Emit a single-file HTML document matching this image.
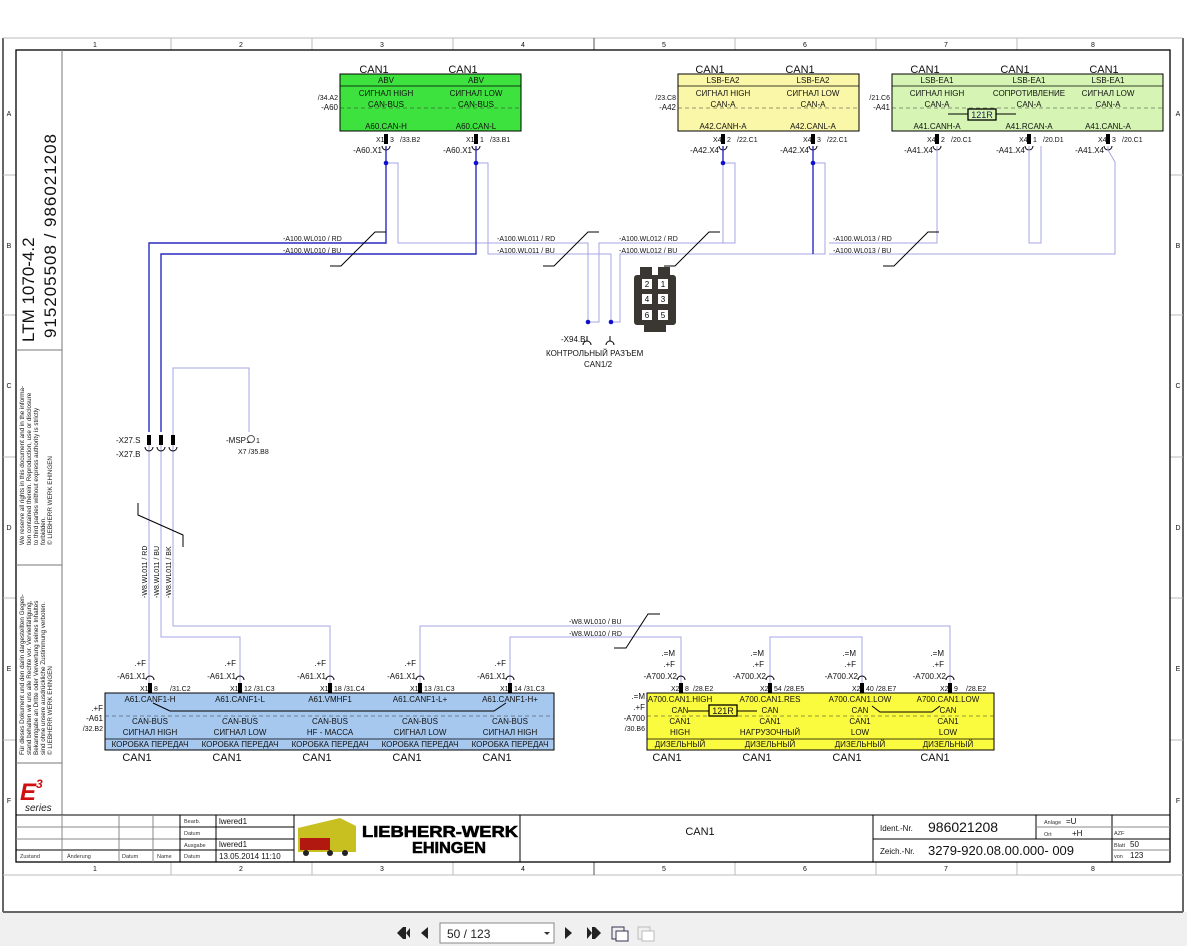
<!DOCTYPE html>
<html><head><meta charset="utf-8"><style>
html,body{margin:0;padding:0;background:#fff;}
svg{display:block;font-family:"Liberation Sans",sans-serif;}
.s{font-size:8px;fill:#111}
.t{font-size:7px;fill:#111}
.c{font-size:11px;fill:#111}
.lw{stroke:#a4a4e4;stroke-width:1;fill:none}
.dw{stroke:#2a2ac0;stroke-width:1.4;fill:none}
.k{stroke:#000;fill:none;stroke-width:1}
.g{stroke:#bbb;fill:none;stroke-width:1}
</style></head><body>
<svg width="1187" height="946" viewBox="0 0 1187 946" xmlns="http://www.w3.org/2000/svg">
<defs>
<g id="pu"><rect x="-2" y="-5" width="4" height="10" fill="#000"/><path d="M-4,7 A4,4 0 0 0 4,7" class="k"/></g>
<g id="pd"><rect x="-2" y="-5" width="4" height="10" fill="#000"/><path d="M-4,-8 A4,4 0 0 1 4,-8" class="k"/></g>
</defs>
<rect x="0" y="0" width="1187" height="946" fill="#fff"/>
<rect x="0" y="912" width="1187" height="34" fill="#f0f0f0"/>
<line x1="3" y1="38" x2="3" y2="912" stroke="#666" stroke-width="2"/>
<line x1="1183" y1="38" x2="1183" y2="912" stroke="#666" stroke-width="2"/>
<line x1="3" y1="912" x2="1183" y2="912" stroke="#666" stroke-width="2"/>
<line x1="3" y1="38" x2="1183" y2="38" class="g"/>
<line x1="3" y1="875" x2="1183" y2="875" class="g"/>
<g class="g">
<line x1="171" y1="38" x2="171" y2="50"/><line x1="312" y1="38" x2="312" y2="50"/><line x1="453" y1="38" x2="453" y2="50"/><line x1="594" y1="38" x2="594" y2="50" stroke="#555"/><line x1="735" y1="38" x2="735" y2="50"/><line x1="876" y1="38" x2="876" y2="50"/><line x1="1017" y1="38" x2="1017" y2="50"/>
<line x1="171" y1="862" x2="171" y2="875"/><line x1="312" y1="862" x2="312" y2="875"/><line x1="453" y1="862" x2="453" y2="875"/><line x1="594" y1="862" x2="594" y2="875" stroke="#555"/><line x1="735" y1="862" x2="735" y2="875"/><line x1="876" y1="862" x2="876" y2="875"/><line x1="1017" y1="862" x2="1017" y2="875"/>
<line x1="3" y1="175" x2="16" y2="175"/><line x1="3" y1="315" x2="16" y2="315"/><line x1="3" y1="457" x2="16" y2="457"/><line x1="3" y1="598" x2="16" y2="598"/><line x1="3" y1="740" x2="16" y2="740"/>
<line x1="1170" y1="175" x2="1183" y2="175"/><line x1="1170" y1="315" x2="1183" y2="315"/><line x1="1170" y1="457" x2="1183" y2="457"/><line x1="1170" y1="598" x2="1183" y2="598"/><line x1="1170" y1="740" x2="1183" y2="740"/>
</g>
<g class="t" text-anchor="middle">
<text x="95" y="47">1</text><text x="241" y="47">2</text><text x="382" y="47">3</text><text x="523" y="47">4</text><text x="664" y="47">5</text><text x="805" y="47">6</text><text x="946" y="47">7</text><text x="1093" y="47">8</text>
<text x="95" y="871">1</text><text x="241" y="871">2</text><text x="382" y="871">3</text><text x="523" y="871">4</text><text x="664" y="871">5</text><text x="805" y="871">6</text><text x="946" y="871">7</text><text x="1093" y="871">8</text>
<text x="9" y="116">A</text><text x="9" y="248">B</text><text x="9" y="388">C</text><text x="9" y="530">D</text><text x="9" y="671">E</text><text x="9" y="803">F</text>
<text x="1178" y="116">A</text><text x="1178" y="248">B</text><text x="1178" y="388">C</text><text x="1178" y="530">D</text><text x="1178" y="671">E</text><text x="1178" y="803">F</text>
</g>
<rect x="16" y="50" width="1154" height="812" fill="none" stroke="#000" stroke-width="1.3"/>
<line x1="62" y1="50" x2="62" y2="815" stroke="#777"/>
<line x1="16" y1="350" x2="62" y2="350" stroke="#777"/><line x1="16" y1="565" x2="62" y2="565" stroke="#777"/><line x1="16" y1="763" x2="62" y2="763" stroke="#777"/>
<text transform="translate(34,342) rotate(-90)" font-size="17" fill="#111">LTM 1070-4.2</text>
<text transform="translate(56,338) rotate(-90)" font-size="17" fill="#111" textLength="204">915205508  /  986021208</text>
<g font-size="6.3" fill="#222">
<text transform="translate(24,545) rotate(-90)">We reserve all rights in this document and in the informa-</text>
<text transform="translate(31,545) rotate(-90)">tion contained therein. Reproduction, use or disclosure</text>
<text transform="translate(38,545) rotate(-90)">to third parties without express authority is strictly</text>
<text transform="translate(45,545) rotate(-90)">forbidden.</text>
<text transform="translate(52,545) rotate(-90)">© LIEBHERR WERK EHINGEN</text>
<text transform="translate(24,755) rotate(-90)">Für dieses Dokument und den darin dargestellten Gegen-</text>
<text transform="translate(31,755) rotate(-90)">stand behalten wir uns alle Rechte vor. Vervielfältigung,</text>
<text transform="translate(38,755) rotate(-90)">Bekanntgabe an Dritte oder Verwertung seines Inhaltes</text>
<text transform="translate(45,755) rotate(-90)">sind ohne unsere ausdrückliche Zustimmung verboten.</text>
<text transform="translate(52,755) rotate(-90)">© LIEBHERR WERK EHINGEN</text>
</g>
<text x="20" y="800" font-size="24" font-weight="bold" font-style="italic" fill="#d01010">E</text>
<text x="36" y="788" font-size="12" font-weight="bold" font-style="italic" fill="#d01010">3</text>
<text x="25" y="811" font-size="10" font-style="italic" fill="#222">series</text>
<g stroke="#000" fill="none">
<line x1="16" y1="815" x2="1170" y2="815"/>
<line x1="16" y1="827" x2="180" y2="827" stroke="#888"/><line x1="16" y1="839" x2="180" y2="839" stroke="#888"/><line x1="16" y1="850" x2="294" y2="850"/>
<line x1="180" y1="827" x2="294" y2="827"/><line x1="180" y1="839" x2="294" y2="839"/>
<line x1="62" y1="815" x2="62" y2="862" stroke="#888"/><line x1="119" y1="815" x2="119" y2="862" stroke="#888"/><line x1="153" y1="815" x2="153" y2="862" stroke="#888"/><line x1="180" y1="815" x2="180" y2="862"/><line x1="216" y1="815" x2="216" y2="862"/>
<line x1="294" y1="815" x2="294" y2="862"/><line x1="520" y1="815" x2="520" y2="862"/><line x1="873" y1="815" x2="873" y2="862"/>
<line x1="873" y1="839" x2="1170" y2="839"/><line x1="1036" y1="815" x2="1036" y2="839"/><line x1="1112" y1="815" x2="1112" y2="862"/>
<line x1="1036" y1="827" x2="1112" y2="827" stroke="#888"/><line x1="1112" y1="827" x2="1170" y2="827" stroke="#888"/><line x1="1112" y1="850" x2="1170" y2="850" stroke="#888"/>
</g>
<g font-size="5.5" fill="#333">
<text x="20" y="858">Zustand</text><text x="67" y="858">Änderung</text><text x="122" y="858">Datum</text><text x="157" y="858">Name</text>
<text x="184" y="823">Bearb.</text><text x="184" y="835">Datum</text><text x="184" y="847">Ausgabe</text><text x="184" y="858">Datum</text>
<text x="1044" y="824">Anlage</text><text x="1044" y="836">Ort</text><text x="1114" y="835">AZF</text><text x="1114" y="847">Blatt</text><text x="1114" y="858">von</text>
</g>
<g font-size="8" fill="#111">
<text x="219" y="824">lwered1</text><text x="219" y="847">lwered1</text><text x="219" y="859">13.05.2014  11:10</text>
<text x="1066" y="824">=U</text><text x="1072" y="836">+H</text><text x="1130" y="847">50</text><text x="1130" y="858">123</text>
<text x="880" y="831">Ident.-Nr.</text><text x="880" y="854">Zeich.-Nr.</text>
</g>
<text x="928" y="832" font-size="14" fill="#111">986021208</text>
<text x="928" y="855" font-size="13" fill="#111">3279-920.08.00.000- 009</text>
<text x="700" y="835" font-size="11" fill="#111" text-anchor="middle">CAN1</text>
<polygon points="298,828 340,818 356,826 356,852 298,852" fill="#c8c020"/>
<rect x="300" y="838" width="30" height="12" fill="#b01810"/>
<circle cx="306" cy="853" r="3" fill="#222"/><circle cx="330" cy="853" r="3" fill="#222"/><circle cx="345" cy="853" r="3" fill="#222"/>
<text x="362" y="837" font-size="16" font-weight="bold" fill="#000" textLength="156" lengthAdjust="spacingAndGlyphs" stroke="#000" stroke-width="0.6">LIEBHERR-WERK</text>
<text x="412" y="853" font-size="16" font-weight="bold" fill="#000" textLength="74" lengthAdjust="spacingAndGlyphs" stroke="#000" stroke-width="0.6">EHINGEN</text>
<g fill="#222">
<polygon points="397,933 403,927 403,939"/><rect x="403" y="927" width="3" height="12"/><polygon points="406,933 410,928 410,938"/>
<polygon points="421,933 428,927 428,939"/>
<polygon points="565,927 572,933 565,939"/>
<polygon points="587,927 592,933 587,939"/><rect x="592" y="927" width="3" height="12"/><polygon points="595,927 601,933 595,939"/>
</g>
<rect x="440" y="923" width="114" height="20" fill="#fff" stroke="#888"/>
<text x="447" y="938" font-size="12" fill="#222">50 / 123</text>
<polygon points="544,932 550,932 547,935" fill="#333"/>
<rect x="612" y="927" width="12" height="12" fill="none" stroke="#335"/><rect x="616" y="931" width="12" height="10" fill="#fff" stroke="#335"/>
<rect x="638" y="927" width="12" height="12" fill="none" stroke="#bbb"/><rect x="642" y="931" width="12" height="10" fill="#fff" stroke="#bbb"/>

<rect x="340" y="74" width="181" height="57" fill="#3ee23e" stroke="#000"/>
<line x1="340" y1="86" x2="521" y2="86" stroke="#000" stroke-width="0.7"/>
<line x1="340" y1="108" x2="521" y2="108" stroke="#333" stroke-dasharray="4,3" stroke-width="0.5"/>
<rect x="678" y="74" width="181" height="57" fill="#fbf7a8" stroke="#000"/>
<line x1="678" y1="86" x2="859" y2="86" stroke="#000" stroke-width="0.7"/>
<line x1="678" y1="108" x2="859" y2="108" stroke="#333" stroke-dasharray="4,3" stroke-width="0.5"/>
<rect x="892" y="74" width="271" height="57" fill="#d6f5b4" stroke="#000"/>
<line x1="892" y1="86" x2="1163" y2="86" stroke="#000" stroke-width="0.7"/>
<line x1="892" y1="108" x2="1163" y2="108" stroke="#333" stroke-dasharray="4,3" stroke-width="0.5"/>
<g class="c" text-anchor="middle">
<text x="374" y="73">CAN1</text><text x="463" y="73">CAN1</text>
<text x="710" y="73">CAN1</text><text x="800" y="73">CAN1</text>
<text x="925" y="73">CAN1</text><text x="1015" y="73">CAN1</text><text x="1104" y="73">CAN1</text>
</g>
<g class="s" text-anchor="middle">
<text x="386" y="83">ABV</text><text x="476" y="83">ABV</text>
<text x="386" y="96">СИГНАЛ HIGH</text><text x="476" y="96">СИГНАЛ LOW</text>
<text x="386" y="107">CAN-BUS</text><text x="476" y="107">CAN-BUS</text>
<text x="386" y="129">A60.CAN-H</text><text x="476" y="129">A60.CAN-L</text>
<text x="723" y="83">LSB-EA2</text><text x="813" y="83">LSB-EA2</text>
<text x="723" y="96">СИГНАЛ HIGH</text><text x="813" y="96">СИГНАЛ LOW</text>
<text x="723" y="107">CAN-A</text><text x="813" y="107">CAN-A</text>
<text x="723" y="129">A42.CANH-A</text><text x="813" y="129">A42.CANL-A</text>
<text x="937" y="83">LSB-EA1</text><text x="1029" y="83">LSB-EA1</text><text x="1108" y="83">LSB-EA1</text>
<text x="937" y="96">СИГНАЛ HIGH</text><text x="1029" y="96">СОПРОТИВЛЕНИЕ</text><text x="1108" y="96">СИГНАЛ LOW</text>
<text x="937" y="107">CAN-A</text><text x="1029" y="107">CAN-A</text><text x="1108" y="107">CAN-A</text>
<text x="937" y="129">A41.CANH-A</text><text x="1029" y="129">A41.RCAN-A</text><text x="1108" y="129">A41.CANL-A</text>
</g>
<line x1="948" y1="114" x2="968" y2="114" class="k" stroke-width="1.3"/><line x1="996" y1="114" x2="1016" y2="114" class="k" stroke-width="1.3"/>
<rect x="968" y="109" width="28" height="11" fill="#d6f5b4" stroke="#000" stroke-width="1.3"/>
<text x="982" y="118" font-size="9" text-anchor="middle" fill="#124">121R</text>
<g class="t" text-anchor="end">
<text x="338" y="100">/34.A2</text><text x="338" y="110" font-size="8">-A60</text>
<text x="676" y="100">/23.C8</text><text x="676" y="110" font-size="8">-A42</text>
<text x="890" y="100">/21.C6</text><text x="890" y="110" font-size="8">-A41</text>
</g>
<g>
<use href="#pu" x="386" y="139"/><use href="#pu" x="476" y="139"/><use href="#pu" x="723" y="139"/><use href="#pu" x="813" y="139"/><use href="#pu" x="937" y="139"/><use href="#pu" x="1029" y="139"/><use href="#pu" x="1108" y="139"/>
</g>
<g class="t">
<text x="376" y="142">X1</text><text x="390" y="142">3</text><text x="400" y="142">/33.B2</text>
<text x="466" y="142">X1</text><text x="480" y="142">1</text><text x="490" y="142">/33.B1</text>
<text x="713" y="142">X4</text><text x="727" y="142">2</text><text x="737" y="142">/22.C1</text>
<text x="803" y="142">X4</text><text x="817" y="142">3</text><text x="827" y="142">/22.C1</text>
<text x="927" y="142">X4</text><text x="941" y="142">2</text><text x="951" y="142">/20.C1</text>
<text x="1019" y="142">X4</text><text x="1033" y="142">1</text><text x="1043" y="142">/20.D1</text>
<text x="1098" y="142">X4</text><text x="1112" y="142">3</text><text x="1122" y="142">/20.C1</text>
</g>
<g class="s" text-anchor="end">
<text x="382" y="153">-A60.X1</text><text x="472" y="153">-A60.X1</text><text x="719" y="153">-A42.X4</text><text x="809" y="153">-A42.X4</text><text x="933" y="153">-A41.X4</text><text x="1025" y="153">-A41.X4</text><text x="1104" y="153">-A41.X4</text>
</g>
<g class="lw">
<path d="M386,146V163H398V243H588V322"/>
<path d="M476,146V163H488V254H611V322"/>
<path d="M723,146V163H735V243H599V322H588"/>
<path d="M813,146V163H825V254H620V322H611"/>
<path d="M937,146V243H829"/>
<path d="M1029,146V243H1041V146"/>
<path d="M1108,146L1108,150L1115,162V254H829"/>
<path d="M723,146V243"/>
<path d="M173,440V368H249V432"/>
<path d="M149,440V690"/>
<path d="M161,440V637H240V684"/>
<path d="M173,440V626H330V684"/>
<path d="M420,684V626H950V684"/>
<path d="M510,684V637H681V684"/>
<path d="M770,684V637H862V684"/>
</g>
<g class="dw">
<path d="M386,146V243H149V432"/>
<path d="M476,146V254H161V432"/>
<path d="M723,146V163"/><path d="M813,146V254"/>
</g>
<g fill="#1010d0">
<circle cx="386" cy="163" r="2.3"/><circle cx="476" cy="163" r="2.3"/><circle cx="723" cy="163" r="2.3"/><circle cx="813" cy="163" r="2.3"/>
<circle cx="588" cy="322" r="2.3"/><circle cx="611" cy="322" r="2.3"/>
</g>
<g class="k" stroke="#444" stroke-width="0.8">
<path d="M330,266H341L375,232H386"/>
<path d="M543,266H554L588,232H599"/>
<path d="M664,266H675L709,232H720"/>
<path d="M883,266H894L928,232H939"/>
<path d="M138,503V515L183,535V547"/>
<path d="M614,648H626L648,614H660"/>
</g>
<g class="t">
<text x="283" y="241">-A100.WL010 / RD</text><text x="283" y="253">-A100.WL010 / BU</text>
<text x="497" y="241">-A100.WL011 / RD</text><text x="497" y="253">-A100.WL011 / BU</text>
<text x="619" y="241">-A100.WL012 / RD</text><text x="619" y="253">-A100.WL012 / BU</text>
<text x="833" y="241">-A100.WL013 / RD</text><text x="833" y="253">-A100.WL013 / BU</text>
<text x="569" y="624">-W8.WL010 / BU</text><text x="569" y="636">-W8.WL010 / RD</text>
<text transform="translate(147,598) rotate(-90)">-W8.WL011 / RD</text>
<text transform="translate(159,598) rotate(-90)">-W8.WL011 / BU</text>
<text transform="translate(171,598) rotate(-90)">-W8.WL011 / BK</text>
</g>
<path d="M583,345 A4,4 0 0 1 591,345 M587,341V336 M606,345 A4,4 0 0 1 614,345 M610,341V336" class="k"/>
<g class="s">
<text x="561" y="342">-X94.B</text>
<text x="546" y="356">КОНТРОЛЬНЫЙ РАЗЪЕМ</text>
<text x="584" y="367">CAN1/2</text>
</g>
<rect x="634" y="275" width="42" height="50" rx="3" fill="#3a3632"/>
<rect x="640" y="267" width="12" height="10" fill="#3a3632"/><rect x="658" y="267" width="12" height="10" fill="#3a3632"/>
<rect x="644" y="322" width="22" height="10" fill="#3a3632"/>
<g fill="#fff"><rect x="642" y="279" width="10" height="10"/><rect x="658" y="279" width="10" height="10"/><rect x="642" y="294" width="10" height="10"/><rect x="658" y="294" width="10" height="10"/><rect x="642" y="310" width="10" height="10"/><rect x="658" y="310" width="10" height="10"/></g>
<g font-size="8" text-anchor="middle" fill="#000"><text x="647" y="287">2</text><text x="663" y="287">1</text><text x="647" y="302">4</text><text x="663" y="302">3</text><text x="647" y="318">6</text><text x="663" y="318">5</text></g>
<use href="#pu" x="149" y="440"/><use href="#pu" x="161" y="440"/><use href="#pu" x="173" y="440"/>
<g class="s"><text x="116" y="443">-X27.S</text><text x="116" y="457">-X27.B</text><text x="226" y="443">-MSP1</text></g>
<circle cx="251" cy="439" r="3.5" fill="#fff" stroke="#555"/>
<g class="t"><text x="256" y="443">1</text><text x="238" y="454">X7 /35.B8</text></g>
<rect x="105" y="693" width="449" height="57" fill="#a6c8ee" stroke="#000"/>
<line x1="105" y1="716" x2="554" y2="716" stroke="#333" stroke-dasharray="4,3" stroke-width="0.5"/>
<line x1="105" y1="739" x2="554" y2="739" stroke="#000" stroke-width="0.7"/>
<path d="M153,703L170,711H494L506,703" class="k" stroke-width="1.2"/>
<rect x="647" y="693" width="347" height="57" fill="#fafa3e" stroke="#000"/>
<line x1="647" y1="716" x2="994" y2="716" stroke="#333" stroke-dasharray="4,3" stroke-width="0.5"/>
<line x1="647" y1="739" x2="994" y2="739" stroke="#000" stroke-width="0.7"/>
<path d="M688,711H709M737,711H757" class="k" stroke-width="1.3"/>
<rect x="709" y="705" width="28" height="11" fill="#fafa3e" stroke="#000" stroke-width="1.3"/>
<text x="723" y="714" font-size="9" text-anchor="middle" fill="#111">121R</text>
<path d="M872,706L880,712H932L940,706" class="k" stroke-width="1.2"/>
<g class="s" text-anchor="middle">
<text x="150" y="702">A61.CANF1-H</text><text x="240" y="702">A61.CANF1-L</text><text x="330" y="702">A61.VMHF1</text><text x="420" y="702">A61.CANF1-L+</text><text x="510" y="702">A61.CANF1-H+</text>
<text x="150" y="724">CAN-BUS</text><text x="240" y="724">CAN-BUS</text><text x="330" y="724">CAN-BUS</text><text x="420" y="724">CAN-BUS</text><text x="510" y="724">CAN-BUS</text>
<text x="150" y="735">СИГНАЛ HIGH</text><text x="240" y="735">СИГНАЛ LOW</text><text x="330" y="735">HF - МАССА</text><text x="420" y="735">СИГНАЛ LOW</text><text x="510" y="735">СИГНАЛ HIGH</text>
<text x="150" y="747">КОРОБКА ПЕРЕДАЧ</text><text x="240" y="747">КОРОБКА ПЕРЕДАЧ</text><text x="330" y="747">КОРОБКА ПЕРЕДАЧ</text><text x="420" y="747">КОРОБКА ПЕРЕДАЧ</text><text x="510" y="747">КОРОБКА ПЕРЕДАЧ</text>
<text x="680" y="702">A700.CAN1.HIGH</text><text x="770" y="702">A700.CAN1.RES</text><text x="860" y="702">A700.CAN1.LOW</text><text x="948" y="702">A700.CAN1.LOW</text>
<text x="680" y="713">CAN</text><text x="770" y="713">CAN</text><text x="860" y="713">CAN</text><text x="948" y="713">CAN</text>
<text x="680" y="724">CAN1</text><text x="770" y="724">CAN1</text><text x="860" y="724">CAN1</text><text x="948" y="724">CAN1</text>
<text x="680" y="735">HIGH</text><text x="770" y="735">НАГРУЗОЧНЫЙ</text><text x="860" y="735">LOW</text><text x="948" y="735">LOW</text>
<text x="680" y="747">ДИЗЕЛЬНЫЙ</text><text x="770" y="747">ДИЗЕЛЬНЫЙ</text><text x="860" y="747">ДИЗЕЛЬНЫЙ</text><text x="948" y="747">ДИЗЕЛЬНЫЙ</text>
</g>
<g class="c" text-anchor="middle">
<text x="137" y="761">CAN1</text><text x="227" y="761">CAN1</text><text x="317" y="761">CAN1</text><text x="407" y="761">CAN1</text><text x="497" y="761">CAN1</text>
<text x="667" y="761">CAN1</text><text x="757" y="761">CAN1</text><text x="847" y="761">CAN1</text><text x="935" y="761">CAN1</text>
</g>
<g class="t" text-anchor="end">
<text x="103" y="711" font-size="8">.+F</text><text x="103" y="721" font-size="8">-A61</text><text x="103" y="731">/32.B2</text>
<text x="645" y="699" font-size="8">.=M</text><text x="645" y="710" font-size="8">.+F</text><text x="645" y="721" font-size="8">-A700</text><text x="645" y="731">/30.B6</text>
</g>
<g>
<use href="#pd" x="150" y="688"/><use href="#pd" x="240" y="688"/><use href="#pd" x="330" y="688"/><use href="#pd" x="420" y="688"/><use href="#pd" x="510" y="688"/>
<use href="#pd" x="681" y="688"/><use href="#pd" x="770" y="688"/><use href="#pd" x="862" y="688"/><use href="#pd" x="950" y="688"/>
</g>
<g class="t">
<text x="140" y="691">X1</text><text x="154" y="691">8</text><text x="170" y="691">/31.C2</text>
<text x="230" y="691">X1</text><text x="244" y="691">12</text><text x="254" y="691">/31.C3</text>
<text x="320" y="691">X1</text><text x="334" y="691">18</text><text x="344" y="691">/31.C4</text>
<text x="410" y="691">X1</text><text x="424" y="691">13</text><text x="434" y="691">/31.C3</text>
<text x="500" y="691">X1</text><text x="514" y="691">14</text><text x="524" y="691">/31.C3</text>
<text x="671" y="691">X2</text><text x="685" y="691">8</text><text x="693" y="691">/28.E2</text>
<text x="760" y="691">X2</text><text x="774" y="691">54</text><text x="784" y="691">/28.E5</text>
<text x="852" y="691">X2</text><text x="866" y="691">40</text><text x="876" y="691">/28.E7</text>
<text x="940" y="691">X2</text><text x="954" y="691">9</text><text x="966" y="691">/28.E2</text>
</g>
<g class="s" text-anchor="end">
<text x="146" y="666">.+F</text><text x="146" y="679">-A61.X1</text>
<text x="236" y="666">.+F</text><text x="236" y="679">-A61.X1</text>
<text x="326" y="666">.+F</text><text x="326" y="679">-A61.X1</text>
<text x="416" y="666">.+F</text><text x="416" y="679">-A61.X1</text>
<text x="506" y="666">.+F</text><text x="506" y="679">-A61.X1</text>
<text x="675" y="656">.=M</text><text x="675" y="667">.+F</text><text x="677" y="679">-A700.X2</text>
<text x="764" y="656">.=M</text><text x="764" y="667">.+F</text><text x="766" y="679">-A700.X2</text>
<text x="856" y="656">.=M</text><text x="856" y="667">.+F</text><text x="858" y="679">-A700.X2</text>
<text x="944" y="656">.=M</text><text x="944" y="667">.+F</text><text x="946" y="679">-A700.X2</text>
</g>
</svg>
</body></html>
